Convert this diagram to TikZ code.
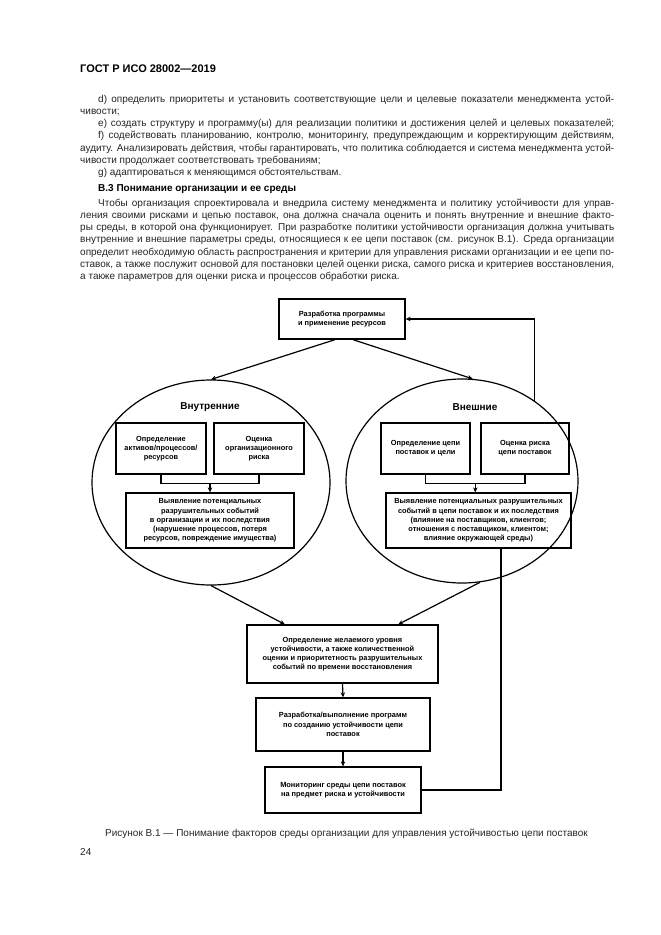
\documentclass[tikz,border=0pt]{standalone}
\usepackage{fontspec}
\setmainfont{Liberation Sans}
\usetikzlibrary{shapes.geometric,arrows.meta,calc}

\newcommand{\fullline}[1]{\makebox[534pt][s]{#1}}
\newcommand{\indline}[1]{\hspace*{18pt}\makebox[516pt][s]{#1}}

\begin{document}
\begin{tikzpicture}[x=1pt,y=-1pt,
    box/.style={draw, line width=1.3pt, inner sep=0pt, align=center,
      font=\fontsize{7.4}{9.2}\selectfont\bfseries},
    oval/.style={draw, ellipse, line width=1.2pt, inner sep=0pt},
    arr/.style={line width=1.2pt, -{Stealth[length=5pt,width=4.5pt]}},
    txt/.style={anchor=north west, inner sep=0pt, align=left,
      font=\fontsize{10}{12.1}\selectfont, text=black!85}]

  \useasboundingbox[fill=white] (0,0) rectangle (661,935);

  % page text
  \node[anchor=base west, inner sep=0pt, font=\fontsize{11}{13}\selectfont\bfseries]
    (head) at (80,72) {ГОСТ Р ИСО 28002—2019};

  \node[txt] (items) at (80,94) {%
    \strut\indline{d) определить приоритеты и установить соответствующие цели и целевые показатели менеджмента устой-}\\
    чивости;\\
    \indline{e) создать структуру и программу(ы) для реализации политики и достижения целей и целевых показателей;}\\
    \indline{f) содействовать планированию, контролю, мониторингу, предупреждающим и корректирующим действиям,}\\
    \fullline{аудиту. Анализировать действия, чтобы гарантировать, что политика соблюдается и система менеджмента устой-}\\
    чивости продолжает соответствовать требованиям;\\
    \hspace*{18pt}g) адаптироваться к меняющимся обстоятельствам.};

  \node[anchor=base west, inner sep=0pt, font=\fontsize{10}{12}\selectfont\bfseries]
    (sect) at (98,191.5) {В.3 Понимание организации и ее среды};

  \node[txt] (para) at (80,198) {%
    \strut\indline{Чтобы организация спроектировала и внедрила систему менеджмента и политику устойчивости для управ-}\\
    \fullline{ления своими рисками и цепью поставок, она должна сначала оценить и понять внутренние и внешние факто-}\\
    \fullline{ры среды, в которой она функционирует. При разработке политики устойчивости организация должна учитывать}\\
    \fullline{внутренние и внешние параметры среды, относящиеся к ее цепи поставок (см. рисунок В.1). Среда организации}\\
    \fullline{определит необходимую область распространения и критерии для управления рисками организации и ее цепи по-}\\
    \fullline{ставок, а также послужит основой для постановки целей оценки риска, самого риска и критериев восстановления,}\\
    а также параметров для оценки риска и процессов обработки риска.};

  % figure
  \node[oval, minimum width=238pt, minimum height=205pt] (inner) at (211,482.5) {};
  \node[oval, minimum width=232pt, minimum height=204pt] (outer) at (462,481) {};

  \node[box, minimum width=126pt, minimum height=40pt] (plan) at (342,319)
    {Разработка программы\\и применение ресурсов};

  \node[font=\fontsize{10}{12}\selectfont\bfseries] (innerlbl) at (210,407) {Внутренние};
  \node[font=\fontsize{10}{12}\selectfont\bfseries] (outerlbl) at (475,407) {Внешние};

  \node[box, minimum width=90pt, minimum height=51pt] (assets) at (161,448.5)
    {Определение\\активов/процессов/\\ресурсов};
  \node[box, minimum width=90pt, minimum height=51pt] (orgrisk) at (259,448.5)
    {Оценка\\организационного\\риска};
  \node[box, minimum width=168pt, minimum height=55pt] (inevents) at (210,520.5)
    {Выявление потенциальных\\разрушительных событий\\в организации и их последствия\\(нарушение процессов, потеря\\ресурсов, повреждение имущества)};

  \node[box, minimum width=89pt, minimum height=51pt] (chain) at (425.5,448.5)
    {Определение цепи\\поставок и цели};
  \node[box, minimum width=88pt, minimum height=51pt] (chainrisk) at (525,448.5)
    {Оценка риска\\цепи поставок};
  \node[box, minimum width=185pt, minimum height=55pt] (exevents) at (478.5,520.5)
    {Выявление потенциальных разрушительных\\событий в цепи поставок и их последствия\\(влияние на поставщиков, клиентов;\\отношения с поставщиком, клиентом;\\влияние окружающей среды)};

  \node[box, minimum width=191pt, minimum height=58pt] (goal) at (342.5,654)
    {Определение желаемого уровня\\устойчивости, а также количественной\\оценки и приоритетность разрушительных\\событий по времени восстановления};
  \node[box, minimum width=174pt, minimum height=53pt] (prog) at (343,724.5)
    {Разработка/выполнение программ\\по созданию устойчивости цепи\\поставок};
  \node[box, minimum width=156pt, minimum height=46pt] (monit) at (343,790)
    {Мониторинг среды цепи поставок\\на предмет риска и устойчивости};

  % connectors
  \draw[arr] ([xshift=-7pt]plan.south) -- (inner.north);
  \draw[arr] ([xshift=11pt]plan.south) -- (outer.84);
  \draw[arr] (outer.48) |- (plan.east);

  \draw[line width=1.2pt] (assets.south) -- ++(0,9) -| (orgrisk.south);
  \coordinate (injoin) at ($(assets.south)!0.5!(orgrisk.south)+(0,9)$);
  \draw[arr] (injoin) -- (injoin |- inevents.north);

  \draw[line width=1.2pt] (chain.south) -- ++(0,9) -| (chainrisk.south);
  \coordinate (exjoin) at ($(chain.south)!0.5!(chainrisk.south)+(0,9)$);
  \draw[arr] (exjoin) -- (exjoin |- exevents.north);

  \draw[arr] (inner.south) -- ($(goal.north west)!0.2!(goal.north east)$);
  \draw[arr] (outer.-80) -- ($(goal.north west)!0.79!(goal.north east)$);
  \draw[arr] (goal.south) -- (prog.north);
  \draw[arr] (prog.south) -- (monit.north);
  \draw[line width=1.2pt] (monit.east) -| ([xshift=22.5pt]exevents.south);

  % caption
  \node[anchor=base west, inner sep=0pt, font=\fontsize{10}{12}\selectfont, text=black!85]
    (capt) at (105,836.5) {Рисунок В.1 — Понимание факторов среды организации для управления устойчивостью цепи поставок};
  \node[anchor=base west, inner sep=0pt, font=\fontsize{10}{12}\selectfont, text=black!85]
    (pageno) at (80,855) {24};
\end{tikzpicture}
\end{document}
